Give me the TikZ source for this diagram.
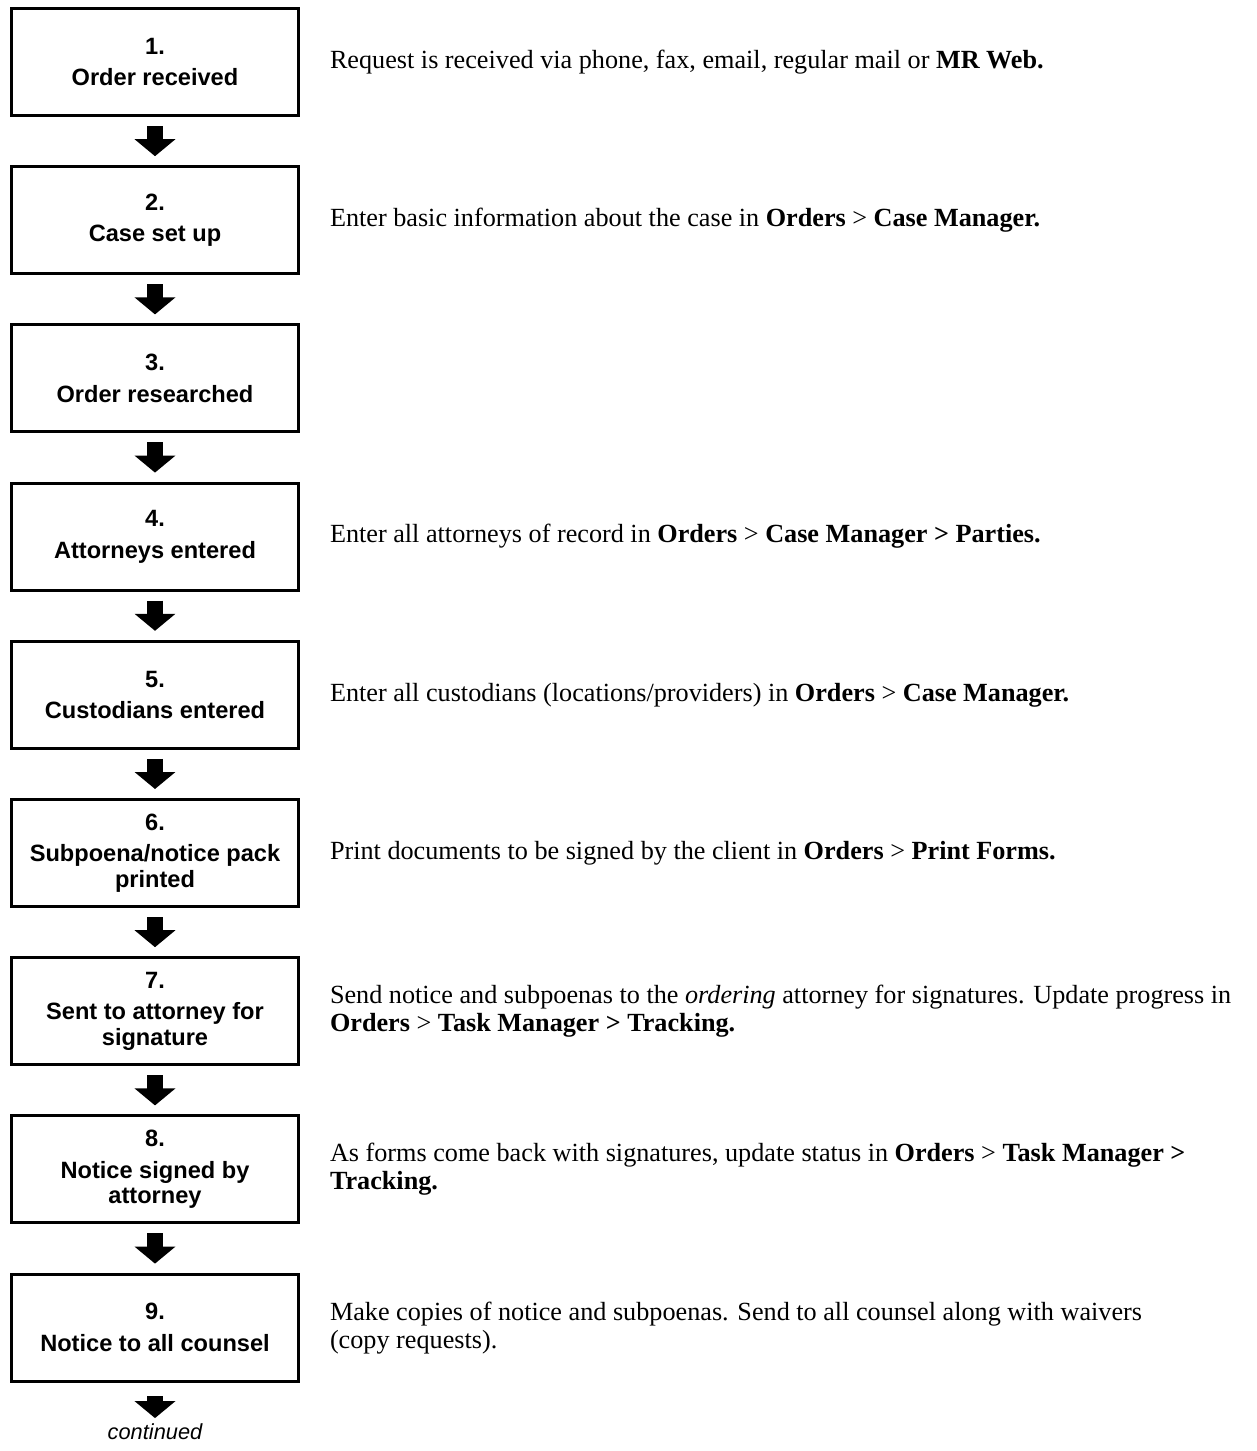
\documentclass[tikz,border=0pt]{standalone}
\usepackage{fontspec}
\setmainfont{Liberation Serif}
\setsansfont{Liberation Sans}
\usetikzlibrary{positioning,arrows.meta}
\tikzset{
  stepbox/.style={draw, line width=1.5pt, outer sep=0pt, inner sep=2pt,
    minimum width=143.5pt, minimum height=53.5pt, align=center,
    font=\sffamily\bfseries\fontsize{11.8}{12.8}\selectfont},
  note/.style={inner sep=0pt, outer sep=0pt, align=left,
    font=\fontsize{13.1}{14}\selectfont},
  flow/.style={line width=8pt, -{Triangle[width=20pt,length=8.5pt]},
    shorten <=5.25pt, shorten >=5.25pt},
}
\begin{document}
\begin{tikzpicture}[node distance=25.6pt, line join=miter]
  \useasboundingbox (0,0) rectangle (628.5pt,-725.5pt);
  % steps
  \node[stepbox] (s1) at (77.5pt,-31pt) {1.\\[3pt]Order received};
  \node[stepbox, below=of s1] (s2) {2.\\[3pt]Case set up};
  \node[stepbox, below=of s2] (s3) {3.\\[3pt]Order researched};
  \node[stepbox, below=of s3] (s4) {4.\\[3pt]Attorneys entered};
  \node[stepbox, below=of s4] (s5) {5.\\[3pt]Custodians entered};
  \node[stepbox, below=of s5] (s6) {6.\\[3pt]Subpoena/notice pack\\printed};
  \node[stepbox, below=of s6] (s7) {7.\\[3pt]Sent to attorney for\\signature};
  \node[stepbox, below=of s7] (s8) {8.\\[3pt]Notice signed by\\attorney};
  \node[stepbox, below=of s8] (s9) {9.\\[3pt]Notice to all counsel};
  \node[inner sep=0pt, below=21pt of s9, font=\sffamily\itshape\fontsize{10.9}{12}\selectfont] (more) {continued};
  % notes on the right
  \node[note, right=15.75pt of s1] (n1) {Request is received via phone, fax, email, regular mail or \textbf{MR Web.}};
  \node[note, right=15.75pt of s2] (n2) {Enter basic information about the case in \textbf{Orders} > \textbf{Case Manager.}};
  \node[note, right=15.75pt of s4] (n4) {Enter all attorneys of record in \textbf{Orders} > \textbf{Case Manager > Parties.}};
  \node[note, right=15.75pt of s5] (n5) {Enter all custodians (locations/providers) in \textbf{Orders} > \textbf{Case Manager.}};
  \node[note, right=15.75pt of s6] (n6) {Print documents to be signed by the client in \textbf{Orders} > \textbf{Print Forms.}};
  \node[note, right=15.75pt of s7] (n7) {Send notice and subpoenas to the \emph{ordering} attorney for signatures. Update progress in\\\textbf{Orders} > \textbf{Task Manager > Tracking.}};
  \node[note, right=15.75pt of s8] (n8) {As forms come back with signatures, update status in \textbf{Orders} > \textbf{Task Manager >}\\\textbf{Tracking.}};
  \node[note, right=15.75pt of s9] (n9) {Make copies of notice and subpoenas. Send to all counsel along with waivers\\(copy requests).};
  % arrows
  \foreach \a/\b in {s1/s2,s2/s3,s3/s4,s4/s5,s5/s6,s6/s7,s7/s8,s8/s9}
    \draw[flow] (\a) -- (\b);
  \draw[flow, shorten <=7.5pt, shorten >=2.5pt] (s9) -- (more);
\end{tikzpicture}
\end{document}
